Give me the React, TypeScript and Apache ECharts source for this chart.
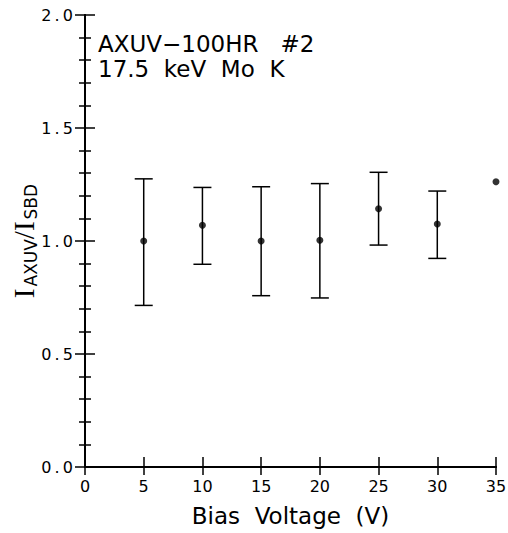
import React, { useEffect, useRef } from "react";
import * as echarts from "echarts";

const voltages = [5, 10, 15, 20, 25, 30, 35];
const ratios = [1.0, 1.07, 1.0, 1.003, 1.143, 1.075, 1.262];
const upper = [1.275, 1.237, 1.24, 1.254, 1.304, 1.221, null];
const lower = [0.715, 0.897, 0.758, 0.748, 0.982, 0.923, null];
const xTicks = [0, 5, 10, 15, 20, 25, 30, 35];
const yTicks = [0.0, 0.5, 1.0, 1.5, 2.0];
const annotation = ["AXUV\u2212100HR   #2", "17.5  keV  Mo  K"];

export default function App() {
  const ref = useRef<HTMLDivElement>(null);
  useEffect(() => {
    if (!ref.current) return;
    document.body.style.margin = "0";
    document.body.style.overflow = "hidden";
    const chart = echarts.init(ref.current, null, { renderer: "svg" });
    const errData = voltages
      .map((v, i) => [v, lower[i], upper[i]])
      .filter((d) => d[1] != null && d[2] != null);
    const tickFont = { fontFamily: "DejaVu Sans", fontSize: 16, color: "#000" };
    const spaced = (s: string) => s.split("").join("\u2009");
    chart.setOption({
      animation: false,
      backgroundColor: "#fff",
      grid: { left: 85, top: 15, right: 12, bottom: 66, containLabel: false, outerBoundsMode: "none" },
      xAxis: [
        {
          type: "value",
          min: xTicks[0],
          max: xTicks[xTicks.length - 1],
          interval: 5,
          position: "bottom",
          name: "Bias  Voltage  (V)",
          nameLocation: "middle",
          nameGap: 37,
          nameMoveOverlap: false,
          nameTextStyle: { fontFamily: "DejaVu Sans", fontSize: 23, color: "#000" },
          axisLine: { show: true, lineStyle: { color: "#000", width: 2 } },
          axisTick: { show: true, inside: true, length: 10, lineStyle: { color: "#000", width: 1.5 } },
          axisLabel: { ...tickFont, margin: 11 },
          splitLine: { show: false },
        },
        {
          type: "value",
          min: xTicks[0],
          max: xTicks[xTicks.length - 1],
          interval: 5,
          position: "top",
          axisLine: { show: true, lineStyle: { color: "#000", width: 2 } },
          axisTick: { show: true, inside: true, length: 8, lineStyle: { color: "#000", width: 1.5 } },
          axisLabel: { show: false },
          splitLine: { show: false },
        },
      ],
      yAxis: [
        {
          type: "value",
          min: yTicks[0],
          max: yTicks[yTicks.length - 1],
          interval: 0.5,
          position: "left",
          name: "{i|I}{sub|AXUV}{i|/I}{sub|SBD}",
          nameLocation: "middle",
          nameRotate: 90,
          nameGap: 46,
          nameMoveOverlap: false,
          nameTextStyle: {
            color: "#000",
            rich: {
              i: { fontFamily: "Liberation Serif", fontSize: 29, color: "#000" },
              sub: { fontFamily: "DejaVu Sans", fontSize: 17, color: "#000", padding: [14, 0, 0, 2] },
            },
          },
          axisLine: { show: true, lineStyle: { color: "#000", width: 2 } },
          axisTick: { show: true, inside: true, length: 10, lineStyle: { color: "#000", width: 1.5 } },
          minorTick: { show: true, splitNumber: 5, length: 6, lineStyle: { color: "#000", width: 1.5 } },
          axisLabel: { ...tickFont, margin: 12, formatter: (v: number) => spaced(v.toFixed(1)) },
          splitLine: { show: false },
          minorSplitLine: { show: false },
        },
        {
          type: "value",
          min: yTicks[0],
          max: yTicks[yTicks.length - 1],
          interval: 0.5,
          position: "right",
          axisLine: { show: true, lineStyle: { color: "#000", width: 2 } },
          axisTick: { show: true, inside: true, length: 10, lineStyle: { color: "#000", width: 1.5 } },
          minorTick: { show: true, splitNumber: 5, length: 6, lineStyle: { color: "#000", width: 1.5 } },
          axisLabel: { show: false },
          splitLine: { show: false },
          minorSplitLine: { show: false },
        },
      ],
      graphic: [
        {
          type: "text",
          left: 98,
          top: 31,
          style: {
            text: annotation.join("\n"),
            fontFamily: "DejaVu Sans",
            fontSize: 23,
            lineHeight: 25,
            fill: "#000",
          },
        },
      ],
      series: [
        {
          type: "custom",
          xAxisIndex: 0,
          yAxisIndex: 0,
          data: errData,
          clip: true,
          renderItem: (params: any, api: any) => {
            const x = api.value(0);
            const top = api.coord([x, api.value(2)]);
            const bot = api.coord([x, api.value(1)]);
            const h = 9;
            const st = { stroke: "#000", lineWidth: 1.5 };
            return {
              type: "group",
              children: [
                { type: "line", shape: { x1: top[0], y1: top[1], x2: bot[0], y2: bot[1] }, style: st },
                { type: "line", shape: { x1: top[0] - h, y1: top[1], x2: top[0] + h, y2: top[1] }, style: st },
                { type: "line", shape: { x1: bot[0] - h, y1: bot[1], x2: bot[0] + h, y2: bot[1] }, style: st },
              ],
            };
          },
        },
        {
          type: "scatter",
          xAxisIndex: 0,
          yAxisIndex: 0,
          clip: true,
          symbol: "circle",
          symbolSize: 7,
          itemStyle: { color: "#000" },
          data: voltages.map((v, i) => [v, ratios[i]]),
        },
      ],
    });
    return () => chart.dispose();
  }, []);
  return <div ref={ref} style={{ position: "absolute", left: 0, top: 0, width: 508, height: 533 }} />;
}
